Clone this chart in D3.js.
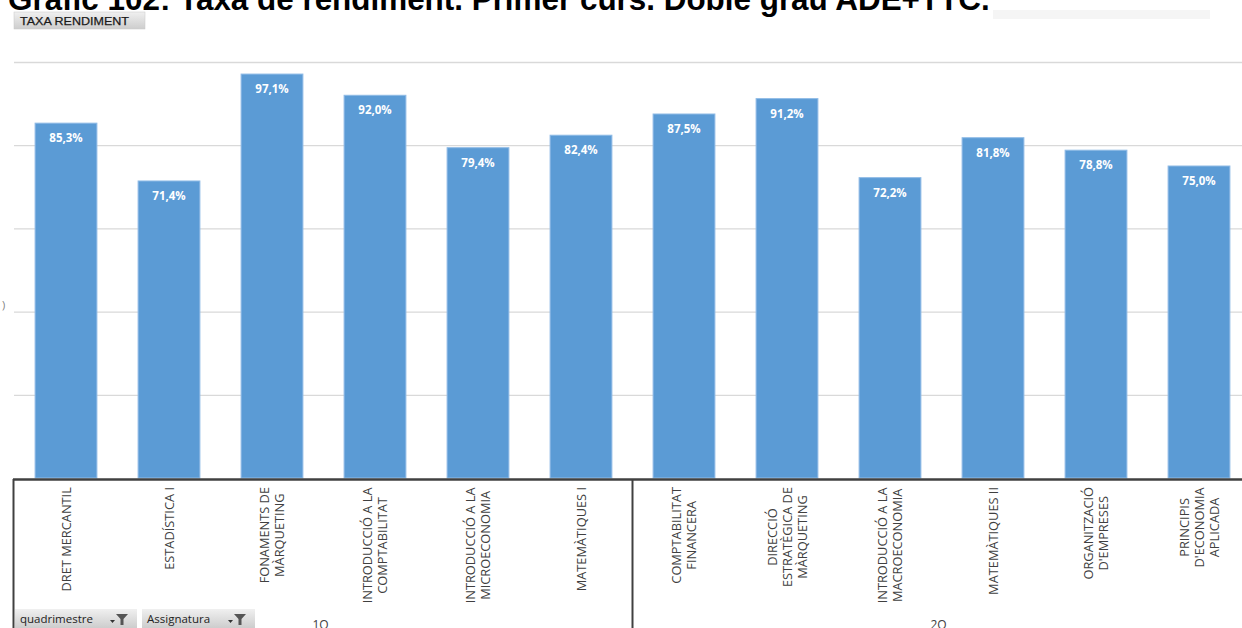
<!DOCTYPE html>
<html><head><meta charset="utf-8">
<script src="https://cdn.jsdelivr.net/npm/d3@7"></script>
<style>html,body{margin:0;padding:0;background:#fff;overflow:hidden}svg{display:block}</style>
</head><body>
<svg id="c" width="1242" height="628"></svg>
<script>
const title = "Gràfic 102: Taxa de rendiment. Primer curs. Doble grau ADE+TTC.";
const categories = [
  ["DRET MERCANTIL"],
  ["ESTADÍSTICA I"],
  ["FONAMENTS DE","MÀRQUETING"],
  ["INTRODUCCIÓ A LA","COMPTABILITAT"],
  ["INTRODUCCIÓ A LA","MICROECONOMIA"],
  ["MATEMÀTIQUES I"],
  ["COMPTABILITAT","FINANCERA"],
  ["DIRECCIÓ","ESTRATÈGICA DE","MÀRQUETING"],
  ["INTRODUCCIÓ A LA","MACROECONOMIA"],
  ["MATEMÀTIQUES II"],
  ["ORGANITZACIÓ","D'EMPRESES"],
  ["PRINCIPIS","D'ECONOMIA","APLICADA"]
];
const groups = ["1Q","1Q","1Q","1Q","1Q","1Q","2Q","2Q","2Q","2Q","2Q","2Q"];
const values = [85.3, 71.4, 97.1, 92.0, 79.4, 82.4, 87.5, 91.2, 72.2, 81.8, 78.8, 75.0];
const yTicks = [20, 40, 60, 80, 100];

const svg = d3.select("#c");
const keys = categories.map(c => c.join(" "));
const x = d3.scaleBand().domain(keys).range([14.5, 1250.5]).paddingInner(0.4).paddingOuter(0.2);
const y = d3.scaleLinear().domain([0, 100]).range([478, 62]);
const fmt = v => d3.format(".1f")(v).replace(".", ",") + "%";

const defs = svg.append("defs");
const g1 = defs.append("linearGradient").attr("id","btn").attr("x1",0).attr("y1",0).attr("x2",0).attr("y2",1);
g1.append("stop").attr("offset","0%").attr("stop-color","#f0f0f0");
g1.append("stop").attr("offset","100%").attr("stop-color","#cdcdcd");

// title (cropped at top, as in the reference)
const tt = svg.append("text").attr("x", 8).attr("y", 10)
  .attr("font-family","Liberation Sans, Arial, sans-serif").attr("font-weight","bold")
  .attr("font-size", 24).attr("fill","#000").text(title);
const tw = tt.node().getComputedTextLength();
tt.attr("font-size", 24 * 982 / tw);

// light bar top right
svg.append("rect").attr("x",993).attr("y",10).attr("width",217).attr("height",9).attr("fill","#f5f5f5");

// TAXA RENDIMENT button
svg.append("rect").attr("x",14).attr("y",12).attr("width",131).attr("height",17).attr("fill","url(#btn)").attr("stroke","#c8c8c8").attr("stroke-width",0.5);
svg.append("text").attr("x",20).attr("y",25).attr("font-family","Liberation Sans Narrow, Liberation Sans, Arial, sans-serif")
  .attr("font-size",11.5).attr("fill","#1a1a1a").attr("stroke","#1a1a1a").attr("stroke-width",0.25)
  .attr("textLength",109).attr("lengthAdjust","spacingAndGlyphs").text("TAXA RENDIMENT");

// gridlines
const yAxis = d3.axisLeft(y).tickValues(yTicks).tickSize(-(1242-14)).tickFormat("");
const ga = svg.append("g").attr("transform","translate(14,0)").call(yAxis);
ga.select(".domain").remove();
ga.selectAll(".tick line").attr("stroke","#d9d9d9").attr("stroke-width",1.3);

// partial axis glyph at left edge
svg.append("text").attr("x",2).attr("y",309).attr("font-family","Open Sans, sans-serif")
  .attr("font-size",11).attr("fill","#7f7f7f").text(")");

// bars
svg.append("g").selectAll("rect").data(values).join("rect")
  .attr("x",(d,i)=>x(keys[i])).attr("y",d=>y(d))
  .attr("width",x.bandwidth()).attr("height",d=>y(0)-y(d))
  .attr("fill","#5b9bd5").attr("stroke","#8fbbe6").attr("stroke-width",1);

// data labels
svg.append("g").selectAll("text").data(values).join("text")
  .attr("x",(d,i)=>x(keys[i])+x.bandwidth()/2).attr("y",d=>y(d)+19)
  .attr("text-anchor","middle").attr("font-family","Open Sans, Noto Sans, sans-serif")
  .attr("font-weight","bold").attr("font-size",11.5).attr("fill","#fff").text(fmt);

// axis frame
const axCol = "#404040";
svg.append("line").attr("x1",13).attr("x2",1242).attr("y1",479.5).attr("y2",479.5).attr("stroke",axCol).attr("stroke-width",2.5);
const sepX = [13.5, (x(keys[5]) + x.bandwidth() + x(keys[6]))/2];
svg.append("g").selectAll("line").data(sepX).join("line")
  .attr("x1",d=>d).attr("x2",d=>d).attr("y1",479).attr("y2",628)
  .attr("stroke",axCol).attr("stroke-width",2);

// category labels rotated
const lh = 15;
const cl = svg.append("g").selectAll("text").data(categories).join("text")
  .attr("text-anchor","middle").attr("font-family","Open Sans, Noto Sans, sans-serif")
  .attr("font-size",12.8).attr("fill","#404040");
cl.each(function(d){
  const t = d3.select(this);
  d.forEach((line,j)=>{
    t.append("tspan").attr("x",0).attr("dy", j===0?0:lh).text(line);
  });
});
cl.each(function(d,i){
  const bb = this.getBBox();
  const cx = x(keys[i]) + x.bandwidth()/2 - (d.length-1)*lh/2 + 4.5;
  d3.select(this).attr("transform",`translate(${cx},${487 + bb.width/2}) rotate(-90)`);
});

// group labels
const gnames = ["1Q","2Q"];
const gpos = gnames.map(g => {
  const idx = groups.map((v,i)=>v===g?i:-1).filter(i=>i>=0);
  return (x(keys[idx[0]]) + x(keys[idx[idx.length-1]]) + x.bandwidth())/2;
});
svg.append("g").selectAll("text").data(gnames).join("text")
  .attr("x",(d,i)=>gpos[i] - 3).attr("y",629)
  .attr("text-anchor","middle").attr("font-family","Open Sans, Noto Sans, sans-serif")
  .attr("font-size",12).attr("fill","#404040").text(d=>d);

// filter buttons bottom left
const btns = [{label:"quadrimestre", x:15, w:122},{label:"Assignatura", x:142, w:113}];
const bg = svg.append("g").selectAll("g").data(btns).join("g").attr("transform",d=>`translate(${d.x},609)`);
bg.append("rect").attr("width",d=>d.w).attr("height",19).attr("fill","url(#btn)");
bg.append("text").attr("x",5).attr("y",14).attr("font-family","Open Sans, Noto Sans, sans-serif")
  .attr("font-size",11.5).attr("fill","#222").text(d=>d.label);
bg.append("path").attr("d",d=>`M${d.w-27},11 l5,0 l-2.5,3 z`).attr("fill","#333");
bg.append("path").attr("d",d=>`M${d.w-21},5 l12,0 l-4.5,5 l0,6 l-3,0 l0,-6 z`).attr("fill","#555");
</script>
</body></html>
